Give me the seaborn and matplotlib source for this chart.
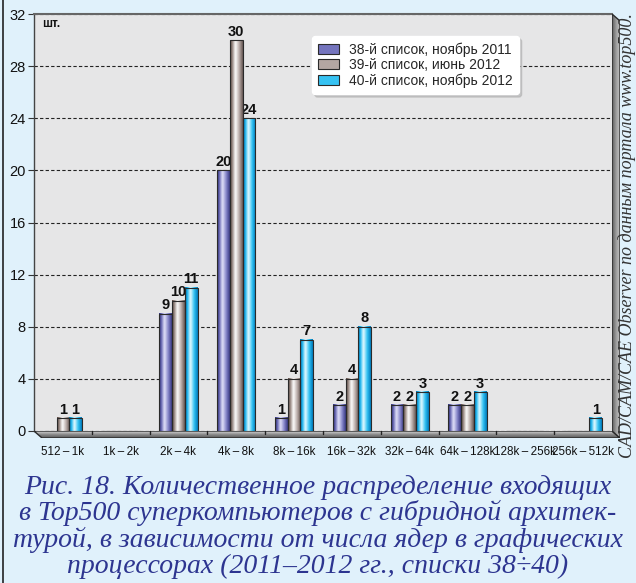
import numpy as np
import pandas as pd
import matplotlib
matplotlib.use("Agg")
import matplotlib.pyplot as plt
import seaborn as sns
from matplotlib.colors import LinearSegmentedColormap
from matplotlib.patches import Polygon, Patch
from matplotlib.lines import Line2D

# ---- data -------------------------------------------------------------
categories = ["512\u2009–\u20091k", "1k\u2009–\u20092k", "2k\u2009–\u20094k",
              "4k\u2009–\u20098k", "8k\u2009–\u200916k", "16k\u2009–\u200932k",
              "32k\u2009–\u200964k", "64k\u2009–\u2009128k", "128k\u2009–\u2009256k",
              "256k\u2009–\u2009512k"]
list38 = [0, 0, 9, 20, 1, 2, 2, 2, 0, 0]
list39 = [1, 0, 10, 30, 4, 4, 2, 2, 0, 0]
list40 = [1, 0, 11, 24, 7, 8, 3, 3, 0, 1]
series_names = ["38-й список, ноябрь 2011",
                "39-й список, июнь 2012",
                "40-й список, ноябрь 2012"]
yticks = [0, 4, 8, 12, 16, 20, 24, 28, 32]
unit_label = "шт."
caption_lines = [
    "Рис. 18. Количественное распределение входящих",
    "в Top500 суперкомпьютеров с гибридной архитек-",
    "турой, в зависимости от числа ядер в графических",
    "процессорах (2011–2012 гг., списки 38÷40)",
]
side_note = "CAD/CAM/CAE Observer по данным портала www.top500."

# ---- style ------------------------------------------------------------
sns.set_theme(style="white")
plt.rcParams["font.family"] = ["Liberation Sans", "DejaVu Sans"]

W, H = 636, 583
BG = "#e0f1fb"


def fx(x):
    return x / W


def fy(y):
    return 1 - y / H


fig = plt.figure(figsize=(W / 100, H / 100), dpi=100, facecolor=BG)
ax = fig.add_axes([fx(34), fy(431), fx(612) - fx(34), fy(14) - fy(431)])
ax.set_facecolor("#e6e6e7")

df = pd.DataFrame({
    "cat": categories * 3,
    "val": list38 + list39 + list40,
    "series": [s for s in series_names for _ in categories],
})

sns.barplot(data=df, x="cat", y="val", hue="series", order=categories,
            hue_order=series_names, width=0.66, ax=ax, legend=False,
            edgecolor="#2a2a2a", linewidth=0.8, saturation=1, zorder=3)

# shaded cylinder-like fills for every bar
grad_stops = [
    ["#2c2c74", "#6767b3", "#e4e4fa", "#8585c9", "#383882"],
    ["#54443f", "#9a8a84", "#ffffff", "#b9aca8", "#655652"],
    ["#006aa8", "#1cb6ef", "#eafcff", "#2fc1f2", "#0079bb"],
]
mid_colors = ["#7474bd", "#b3a6a2", "#36c2f2"]
pos = [0.0, 0.18, 0.42, 0.72, 1.0]
grad = np.linspace(0, 1, 64)[np.newaxis, :]
for i, cont in enumerate(ax.containers):
    cmap = LinearSegmentedColormap.from_list(f"g{i}", list(zip(pos, grad_stops[i])))
    for bar in cont:
        h = bar.get_height()
        x0 = bar.get_x()
        w = bar.get_width()
        bar.set_facecolor("none")
        bar.set_zorder(4)
        if h > 0:
            ax.imshow(grad, cmap=cmap, extent=[x0, x0 + w, 0, h],
                      aspect="auto", zorder=3.5, interpolation="bicubic")
    vals = [b.get_height() for b in cont]
    ax.bar_label(cont, labels=[str(int(v)) if v > 0 else "" for v in vals],
                 padding=1, fontsize=10.5, fontweight="bold", color="#111")

ax.set_xlim(-0.5, len(categories) - 0.5)
ax.set_ylim(0, 32)
ax.set_yticks(yticks)
ax.set_xticks(range(len(categories)))
ax.set_xticklabels(categories)
ax.set_xlabel("")
ax.set_ylabel("")

ax.yaxis.grid(True, color="#222", linestyle=(0, (3, 2)), linewidth=0.8)
ax.xaxis.grid(False)
ax.set_axisbelow(True)

for side in ["right", "bottom"]:
    ax.spines[side].set_visible(False)
ax.spines["left"].set_color("#444")
ax.spines["left"].set_linewidth(1.0)
ax.spines["top"].set_color("#666")
ax.spines["top"].set_linewidth(1.5)

ax.tick_params(axis="y", length=4, width=0.8, color="#333", labelsize=10.5,
               labelcolor="#111", pad=2, left=True)
ax.tick_params(axis="x", length=0, labelsize=8.4, labelcolor="#111", pad=11)

# unit label
fig.text(fx(42), fy(24), unit_label, fontsize=8.5, fontweight="bold",
         color="#111", ha="left", va="center")

# legend
handles = [Patch(facecolor=c, edgecolor="#2a2a2a", linewidth=0.8) for c in mid_colors]
leg = ax.legend(handles, series_names, loc="upper left",
                bbox_to_anchor=(0.481, 0.947), fontsize=10, frameon=True,
                fancybox=True, shadow={"color": "#b0b0b0", "alpha": 0.6},
                framealpha=1, edgecolor="#ffffff", facecolor="#ffffff",
                handlelength=1.5, handleheight=0.7, handletextpad=0.7,
                labelspacing=0.1, borderpad=0.45, borderaxespad=0)
leg.set_zorder(10)


def shaded_poly(pts, colors, horizontal=False):
    xs = [p[0] for p in pts]
    ys = [p[1] for p in pts]
    x0, x1, y0, y1 = min(xs), max(xs), min(ys), max(ys)
    gax = fig.add_axes([fx(x0), fy(y1), (x1 - x0) / W, (y1 - y0) / H])
    gax.set_xlim(x0, x1)
    gax.set_ylim(y1, y0)
    gax.axis("off")
    gax.patch.set_alpha(0)
    cmap = LinearSegmentedColormap.from_list("s", colors)
    g = np.linspace(0, 1, 64)
    img = g[np.newaxis, :] if horizontal else g[:, np.newaxis]
    im = gax.imshow(img, cmap=cmap, extent=[x0, x1, y1, y0], aspect="auto",
                    origin="upper")
    poly = Polygon(pts, closed=True, facecolor="none", edgecolor="#2a2a2a",
                   linewidth=1.0, transform=gax.transData)
    gax.add_patch(poly)
    im.set_clip_path(poly)
    return gax


# floor and right wall of the box
shaded_poly([(34, 431), (612, 431), (620, 438), (42, 438)],
            ["#d6d6d6", "#8a8a8a", "#5a5a5a"])
shaded_poly([(612, 14), (620, 21), (620, 438), (612, 431)],
            ["#5a5a5a", "#9a9a9a", "#c4c4c4"], horizontal=True)

# category boundary marks on the floor
for k in range(1, len(categories)):
    xp = 34 + (612 - 34) * k / len(categories)
    fig.add_artist(Line2D([fx(xp), fx(xp)], [fy(431), fy(434)],
                          color="#222", lw=1.0, transform=fig.transFigure))

# caption
caption_y = [487, 513, 540, 566]
for line, yy in zip(caption_lines, caption_y):
    fig.text(fx(318), fy(yy), line, fontsize=20, style="italic",
             family=["Liberation Serif", "DejaVu Serif"], color="#2d3590",
             ha="center", va="center")

# vertical source note
fig.text(fx(627), fy(458), side_note, rotation=90, fontsize=13,
         style="italic", family=["Liberation Serif", "DejaVu Serif"],
         color="#333333", ha="center", va="bottom")

# left frame line
fig.add_artist(Line2D([fx(3), fx(3)], [0, 1], color="#222", lw=1.2,
                      transform=fig.transFigure))

fig.savefig("out.png", dpi=100, facecolor=BG)
